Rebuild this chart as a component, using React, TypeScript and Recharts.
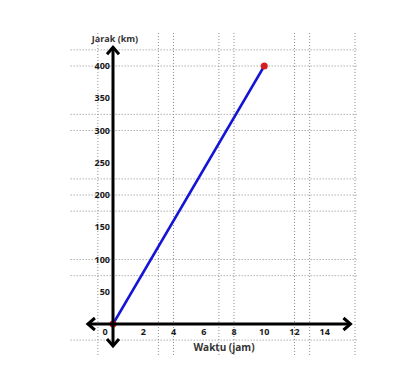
import { LineChart, Line, XAxis, YAxis, ReferenceLine } from 'recharts';

// data
const waktu = [0, 10];
const jarak = [0, 400];
const xTicks = [0, 2, 4, 6, 8, 10, 12, 14];
const yTicks = [50, 100, 150, 200, 250, 300, 350, 400];
const gridX = [-1, 3, 4, 7, 8, 12, 13, 16];
const gridY = [425, 400, 325, 300, 225, 200, 175, 100, 75, -25];

const data = waktu.map((w, i) => ({ x: w, y: jarak[i] }));

const FONT = '"Open Sans", sans-serif';

function XTick(props: any) {
    const { x, y, payload } = props;
    const shift = payload.value === 0 ? -8 : 0;
    return (
        <text x={x + shift} y={y} dy="0.71em" textAnchor="middle" fontSize={9} fontWeight={700} fontFamily={FONT} fill="#1a1a1a">
            {payload.value}
        </text>
    );
}

function YTick(props: any) {
    const { x, y, payload } = props;
    return (
        <text x={x} y={y} dy="0.355em" textAnchor="end" fontSize={9} fontWeight={700} fontFamily={FONT} fill="#1a1a1a">
            {payload.value}
        </text>
    );
}

// axis line with open arrowheads at both ends
function ArrowAxis(props: any) {
    const { x1, y1, x2, y2 } = props;
    const len = Math.hypot(x2 - x1, y2 - y1) || 1;
    const dx = (x2 - x1) / len;
    const dy = (y2 - y1) / len;
    const head = (px: number, py: number, sx: number, sy: number) => {
        const bx = px - sx * 7;
        const by = py - sy * 7;
        return `M${bx - sy * 6},${by + sx * 6} L${px},${py} L${bx + sy * 6},${by - sx * 6}`;
    };
    return (
        <g>
            <line x1={x1} y1={y1} x2={x2} y2={y2} stroke="#000" strokeWidth={3} />
            <path d={head(x2, y2, dx, dy)} fill="none" stroke="#000" strokeWidth={3} />
            <path d={head(x1, y1, -dx, -dy)} fill="none" stroke="#000" strokeWidth={3} />
        </g>
    );
}

export default function App() {
    return (
        <div style={{ position: 'absolute', left: 0, top: 0, width: 410, height: 366, background: '#fff' }}>
            <LineChart width={410} height={366} data={data} margin={{ top: 66, right: 55, bottom: 22, left: 73 }}>
                <XAxis type="number" dataKey="x" domain={[0, 16]} ticks={xTicks} axisLine={false} tickLine={false} tickSize={0} tickMargin={5} height={20} tick={<XTick />} interval={0} />
                <YAxis type="number" dataKey="y" domain={[0, 400]} ticks={yTicks} axisLine={false} tickLine={false} tickSize={0} tickMargin={3} width={40} tick={<YTick />} interval={0} />
                {gridY.map((v) => (
                    <ReferenceLine key={'h' + v} segment={[{ x: -2.8, y: v }, { x: 16.1, y: v }]} ifOverflow="visible" stroke="#8a8a8a" strokeDasharray="1 2" strokeWidth={1} zIndex={100} />
                ))}
                {gridX.map((v) => (
                    <ReferenceLine key={'v' + v} segment={[{ x: v, y: -48 }, { x: v, y: 452 }]} ifOverflow="visible" stroke="#8a8a8a" strokeDasharray="1 2" strokeWidth={1} zIndex={100} />
                ))}
                <Line type="linear" dataKey="y" stroke="#1414d6" strokeWidth={2.5} dot={{ r: 3.5, fill: '#d42020', stroke: 'none' }} activeDot={false} isAnimationActive={false} />
                <ReferenceLine segment={[{ x: 0, y: -34 }, { x: 0, y: 429 }]} ifOverflow="visible" shape={ArrowAxis} zIndex={2000} />
                <ReferenceLine segment={[{ x: -1.66, y: 0 }, { x: 15.7, y: 0 }]} ifOverflow="visible" shape={ArrowAxis} zIndex={2000} />
                <text x={115} y={42} textAnchor="middle" fontSize={9} fontWeight={700} fontFamily={FONT} fill="#333">Jarak (km)</text>
                <text x={224} y={351} textAnchor="middle" fontSize={10} fontWeight={700} fontFamily={FONT} fill="#333">Waktu (jam)</text>
            </LineChart>
        </div>
    );
}
